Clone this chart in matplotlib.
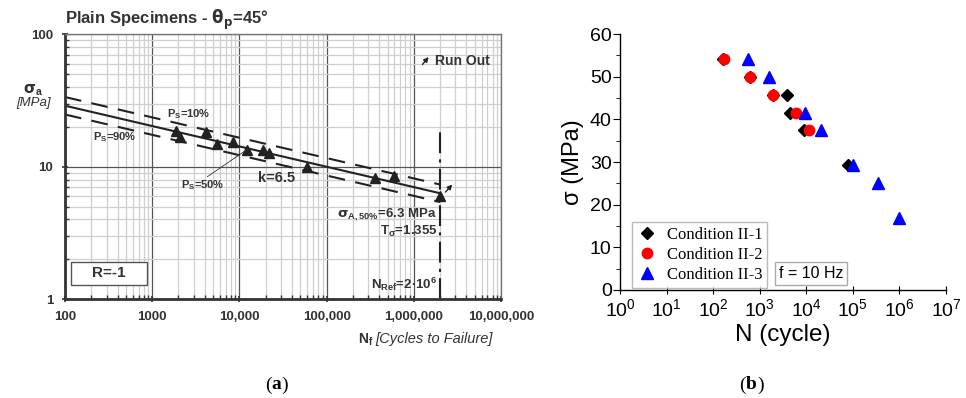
import matplotlib
matplotlib.use("Agg")
import matplotlib.pyplot as plt
from matplotlib.patches import Rectangle
from matplotlib.ticker import FixedLocator, NullFormatter, LogLocator

plt.rcParams['font.family'] = ['Liberation Sans', 'DejaVu Sans']

# (a) plain specimens, theta_p = 45 deg
n_tests = [1870, 2100, 4140, 5540, 8370, 12250, 18500, 21700, 60000, 360000, 594000, 2.0e6]
s_tests = [18.7, 16.9, 18.2, 14.9, 15.3, 13.3, 13.3, 12.7, 9.95, 8.2, 8.45, 5.97]
n_line = [100, 2.0e6]
s_p50 = [28.9, 6.3]
s_p10 = [33.6, 7.33]
s_p90 = [24.8, 5.41]
n_ref = 2.0e6
x_ticks_a = [100, 1000, 10000, 100000, 1000000, 10000000]
x_labels_a = ['100', '1000', '10,000', '100,000', '1,000,000', '10,000,000']

# (b) three test conditions
n_c1 = [160, 617, 1950, 3900, 4450, 9000, 79000]
s_c1 = [54.1, 50.0, 45.7, 45.7, 41.6, 37.5, 29.3]
n_c2 = [175, 617, 1950, 5980, 11560]
s_c2 = [54.1, 50.0, 45.7, 41.6, 37.4]
n_c3 = [567, 1600, 9330, 20600, 102000, 350000, 990000]
s_c3 = [54.1, 50.0, 41.6, 37.5, 29.3, 25.1, 16.8]

fig = plt.figure(figsize=(9.66, 3.98), dpi=100)

# ---------------- panel (a) ----------------
ax = fig.add_axes([0.0673, 0.2487, 0.4513, 0.665])
ax.set_xscale('log')
ax.set_yscale('log')
ax.set_xlim(100, 1e7)
ax.set_ylim(1, 100)
ax.grid(True, which='minor', color='#cfcfcf', lw=0.9)
ax.grid(True, which='major', color='#555555', lw=0.9)
ax.set_axisbelow(True)
ax.xaxis.set_minor_locator(LogLocator(base=10, subs=range(2, 10)))
ax.yaxis.set_minor_locator(LogLocator(base=10, subs=range(2, 10)))
ax.xaxis.set_minor_formatter(NullFormatter())
ax.yaxis.set_minor_formatter(NullFormatter())
ax.xaxis.set_major_locator(FixedLocator(x_ticks_a))
ax.set_xticklabels(x_labels_a)
ax.set_yticks([1, 10, 100])
ax.set_yticklabels(['1', '10', '100'])
for lab in ax.get_xticklabels() + ax.get_yticklabels():
    lab.set_fontweight('bold')
    lab.set_fontsize(9.5)
    lab.set_color('#333333')
ax.tick_params(which='major', direction='inout', length=5, width=1.2, color='#333333', pad=6)
ax.tick_params(which='minor', direction='in', length=3, width=1, color='#333333')
for side in ['left', 'bottom']:
    ax.spines[side].set_linewidth(2)
    ax.spines[side].set_color('#333333')
for side in ['top', 'right']:
    ax.spines[side].set_linewidth(1)
    ax.spines[side].set_color('#777777')

ax.plot(n_line, s_p50, color='#222222', lw=1.5)
ax.plot(n_line, s_p10, color='#222222', lw=1.5, dashes=(8, 5))
ax.plot(n_line, s_p90, color='#222222', lw=1.5, dashes=(8, 5))
ax.plot(n_tests, s_tests, linestyle='none', marker='^', ms=6.5, color='#222222')
ax.plot([n_ref, n_ref], [1, 20], color='#222222', lw=1.5, dashes=(10, 3, 1.5, 3))

# run out arrows
ax.annotate('', xy=(2.9e6, 7.6), xytext=(2.2e6, 6.2),
            arrowprops=dict(arrowstyle='-|>', color='#222222', lw=1, mutation_scale=7))
ax.annotate('', xy=(1.55e6, 70), xytext=(1.2e6, 57),
            arrowprops=dict(arrowstyle='-|>', color='#222222', lw=1, mutation_scale=7))
ax.text(1.75e6, 63, 'Run Out', fontsize=10, fontweight='bold', color='#333333', va='center')

tkw = dict(fontweight='bold', color='#333333')
ax.text(0.0, 1.055, r'Plain Specimens - $\mathbf{\theta_p}$=45°', transform=ax.transAxes,
        fontsize=12, va='center', ha='left', **tkw)
ax.text(1486, 25.1, r'P$_\mathregular{S}$=10%', fontsize=8, va='center', **tkw)
ax.text(210, 16.6, r'P$_\mathregular{S}$=90%', fontsize=8, va='center', **tkw)
ax.text(2150, 7.2, r'P$_\mathregular{S}$=50%', fontsize=8, va='center', **tkw)
ax.plot([4290, 12700], [8.4, 13.7], color='#333333', lw=0.6)
ax.text(16500, 8.26, 'k=6.5', fontsize=10.5, va='center', **tkw)
ax.text(1.85e6, 4.35, r'$\mathbf{\sigma}_\mathregular{A,50\%}$=6.3 MPa', fontsize=9.5,
        ha='right', va='center', **tkw)
ax.text(1.85e6, 3.24, r'T$_\mathregular{\sigma}$=1.355', fontsize=9.5, ha='right', va='center', **tkw)
ax.text(1.85e6, 1.29, r'N$_\mathregular{Ref}$=2·10$^\mathregular{6}$', fontsize=9.5,
        ha='right', va='center', **tkw)
ax.add_patch(Rectangle((0.0138, 0.053), 0.174, 0.087, transform=ax.transAxes,
                       fc='white', ec='#555555', lw=1.0, zorder=3))
ax.text(0.1, 0.097, 'R=-1', transform=ax.transAxes, fontsize=11, ha='center', va='center',
        zorder=4, **tkw)
ax.text(-0.073, 0.79, r'$\mathbf{\sigma}_\mathregular{a}$', transform=ax.transAxes,
        fontsize=11, ha='center', va='center', **tkw)
ax.text(-0.073, 0.74, '[MPa]', transform=ax.transAxes, fontsize=9.5, style='italic',
        ha='center', va='center', color='#333333')
fig.text(0.5105, 1 - 339 / 398, '[Cycles to Failure]', fontsize=10.5, style='italic',
         ha='right', va='center', color='#333333')
fig.text(0.387, 1 - 340 / 398, r'N$_\mathregular{f}$', fontsize=10,
         ha='right', va='center', color='#333333', fontweight='bold')

# ---------------- panel (b) ----------------
bx = fig.add_axes([0.6418, 0.2714, 0.3375, 0.643])
bx.set_xscale('log')
bx.set_xlim(1, 1e7)
bx.set_ylim(0, 60)
bx.plot(n_c1, s_c1, linestyle='none', marker='D', ms=6.5, color='black', label='Condition II-1')
bx.plot(n_c2, s_c2, linestyle='none', marker='o', ms=7.5, color='red', label='Condition II-2')
bx.plot(n_c3, s_c3, linestyle='none', marker='^', ms=8, color='blue', label='Condition II-3')
bx.spines['top'].set_visible(False)
bx.spines['right'].set_visible(False)
bx.set_xticks([10.0 ** i for i in range(8)])
bx.xaxis.set_minor_locator(LogLocator(base=10, subs=range(2, 10)))
bx.xaxis.set_minor_formatter(NullFormatter())
bx.set_yticks(range(0, 61, 10))
bx.yaxis.set_minor_locator(FixedLocator(range(5, 60, 10)))
bx.tick_params(axis='x', which='major', direction='inout', length=6, labelsize=14, pad=3)
bx.tick_params(axis='x', which='minor', direction='in', length=3)
bx.tick_params(axis='y', which='major', direction='out', length=5, labelsize=14, pad=1)
bx.tick_params(axis='y', which='minor', direction='out', length=3)
for sp in ['left', 'bottom']:
    bx.spines[sp].set_linewidth(1.0)
bx.set_xlabel('N (cycle)', fontsize=17.5, labelpad=3)
bx.set_ylabel('σ (MPa)', fontsize=17, labelpad=4)
leg = bx.legend(loc='lower left', bbox_to_anchor=(0.01, -0.025), frameon=True, fancybox=False,
                prop={'family': 'Liberation Serif', 'size': 12}, handletextpad=0.6,
                handlelength=1.2, borderpad=0.3, labelspacing=0.25, edgecolor='#aaaaaa')
leg.get_frame().set_linewidth(1)
bx.text(0.488, 0.035, 'f = 10 Hz', transform=bx.transAxes, fontsize=11.5, va='bottom', ha='left',
        bbox=dict(boxstyle='square,pad=0.25', fc='white', ec='#aaaaaa', lw=1))

# captions
fig.text(0.281, 0.033, '(', fontsize=14, family='Liberation Serif', ha='right', va='center')
fig.text(0.281, 0.033, 'a', fontsize=14, family='Liberation Serif', fontweight='bold',
         ha='left', va='center')
fig.text(0.281 + 0.0105, 0.033, ')', fontsize=14, family='Liberation Serif', ha='left', va='center')
fig.text(0.772, 0.033, '(', fontsize=14, family='Liberation Serif', ha='right', va='center')
fig.text(0.772, 0.033, 'b', fontsize=14, family='Liberation Serif', fontweight='bold',
         ha='left', va='center')
fig.text(0.772 + 0.012, 0.033, ')', fontsize=14, family='Liberation Serif', ha='left', va='center')

fig.savefig('out.png', dpi=100)
